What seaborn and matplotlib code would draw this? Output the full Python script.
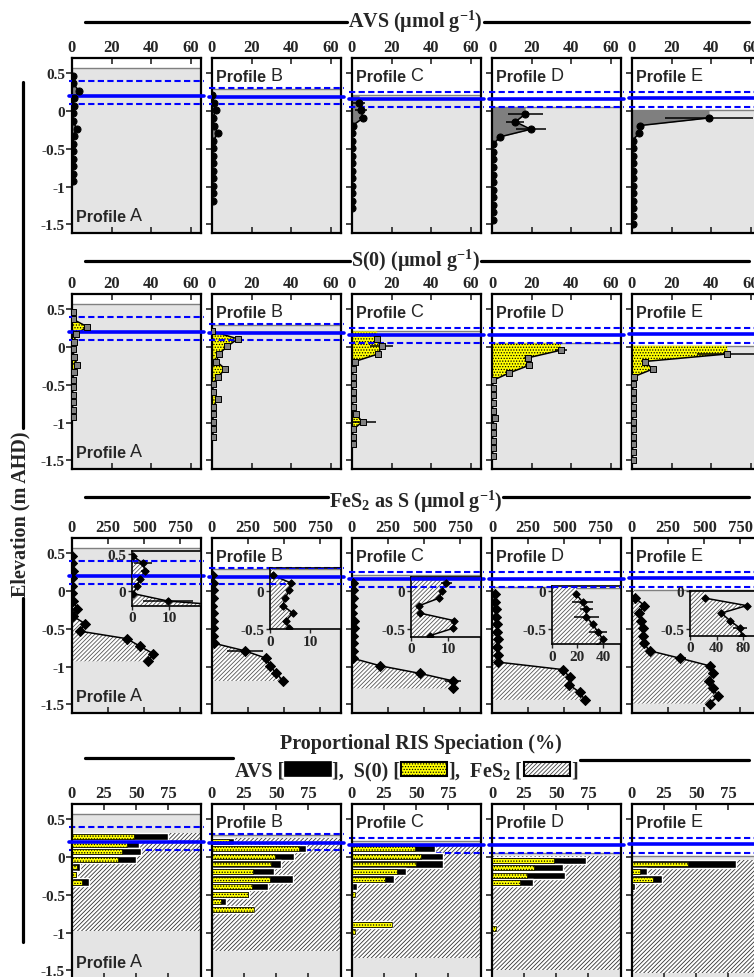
import numpy as np
import matplotlib
matplotlib.use("Agg")
import matplotlib.pyplot as plt
import seaborn as sns
from matplotlib.lines import Line2D
from matplotlib.patches import Rectangle

sns.set_style("ticks")
plt.rcParams["font.family"] = ["Liberation Serif", "DejaVu Serif"]
plt.rcParams["font.weight"] = "bold"
plt.rcParams["axes.unicode_minus"] = False
plt.rcParams["mathtext.fontset"] = "custom"
plt.rcParams["mathtext.rm"] = "Liberation Serif:bold"
plt.rcParams["mathtext.it"] = "Liberation Serif:bold"
plt.rcParams["mathtext.bf"] = "Liberation Serif:bold"
plt.rcParams["hatch.linewidth"] = 0.6

# =============================================================================
# DATA
# =============================================================================
profiles = ["A", "B", "C", "D", "E"]

# sample elevations (m AHD)
elev_a = [0.47, 0.37, 0.27, 0.17, 0.07, -0.03, -0.13, -0.23, -0.33, -0.43, -0.53, -0.63, -0.73, -0.83, -0.93]
elev_b = [0.21, 0.11, 0.01, -0.09, -0.19, -0.29, -0.39, -0.49, -0.59, -0.69, -0.79, -0.89, -0.99, -1.09, -1.19]
elev_c = [0.11, 0.01, -0.09, -0.19, -0.29, -0.39, -0.49, -0.59, -0.69, -0.79, -0.89, -0.99, -1.09, -1.19, -1.29]
elev_d = [-0.04, -0.14, -0.24, -0.34, -0.44, -0.54, -0.64, -0.74, -0.84, -0.94, -1.04, -1.14, -1.24, -1.34, -1.44]
elev_e = [-0.09, -0.19, -0.29, -0.39, -0.49, -0.59, -0.69, -0.79, -0.89, -0.99, -1.09, -1.19, -1.29, -1.39, -1.49]

# sediment surface and water levels (m AHD)
surface = [0.57, 0.30, 0.21, 0.05, 0.02]
upper_wl = [0.40, 0.31, 0.26, 0.26, 0.26]
mean_wl = [0.20, 0.19, 0.16, 0.16, 0.17]
lower_wl = [0.10, 0.09, 0.06, 0.06, 0.06]

# AVS (umol/g)
avs_a = [0.3, 0.5, 3.5, 0.8, 0.8, 0.5, 0.5, 2.3, 0.8, 0.5, 0.4, 0.4, 0.4, 0.3, 0.3]
avs_b = [0.2, 1.0, 1.8, 0.5, 1.0, 3.0, 0.7, 0.4, 0.3, 0.3, 0.3, 0.3, 0.3, 0.3, 0.3]
avs_c = [3.6, 4.5, 5.6, 0.3, 0.2, 0.2, 0.2, 0.2, 0.2, 0.2, 0.2, 0.2, 0.2, 0.2, 0.2]
avs_d = [16.7, 11.8, 19.5, 4.1, 0.5, 0.3, 0.3, 0.3, 0.3, 0.3, 0.3, 0.3, 0.3, 0.3, 0.3]
avs_e = [38.8, 4.2, 3.5, 0.3, 0.3, 0.3, 0.3, 0.3, 0.3, 0.3, 0.3, 0.3, 0.3, 0.3, 0.3]
avs_err_a = [0] * 15
avs_err_b = [0] * 15
avs_err_c = [3, 3, 2, 0, 0, 0, 0, 0, 0, 0, 0, 0, 0, 0, 0]
avs_err_d = [8.8, 4.5, 7.6, 1, 0, 0, 0, 0, 0, 0, 0, 0, 0, 0, 0]
avs_err_e = [22, 1, 0.5, 0, 0, 0, 0, 0, 0, 0, 0, 0, 0, 0, 0]

# S(0) (umol/g)
s0_a = [0.3, 0.5, 7.7, 2.0, 1.0, 0.3, 1.2, 2.5, 1.2, 0.3, 0.3, 0.3, 0.3, 0.3, 0.3]
s0_b = [0.2, 13.0, 7.7, 3.5, 2.2, 6.8, 3.0, 0.5, 0.5, 3.0, 0.5, 0.5, 0.5, 0.5, 0.5]
s0_c = [12.7, 14.9, 13.2, 1.4, 0.5, 0.3, 0.3, 0.3, 0.3, 0.3, 2.0, 5.3, 0.5, 0.3, 0.3]
s0_d = [34.7, 18.3, 18.8, 8.8, 0.5, 0.3, 0.3, 0.3, 0.3, 1.3, 0.3, 0.3, 0.3, 0.3, 0.3]
s0_e = [48.0, 6.3, 10.5, 1.0, 0.5, 0.3, 0.3, 0.3, 0.3, 0.3, 0.3, 0.3, 0.3, 0.3, 0.3]
s0_err_a = [0] * 15
s0_err_b = [0] * 15
s0_err_c = [1.5, 6, 1.5, 0, 0, 0, 0, 0, 0, 0, 0, 6.7, 0, 0, 0]
s0_err_d = [3, 2, 2, 1, 0, 0, 0, 0, 0, 0, 0, 0, 0, 0, 0]
s0_err_e = [15, 1, 1, 0, 0, 0, 0, 0, 0, 0, 0, 0, 0, 0, 0]

# FeS2 as S (umol/g)
fes2_a = [0.2, 3.0, 3.5, 2.2, 1.4, 0.3, 9.7, 37, 5, 90, 55, 379, 471, 563, 529]
fes2_b = [0.8, 5.2, 4.8, 3.8, 3.2, 5.7, 4.0, 4.8, 5, 12, 226, 376, 400, 446, 492]
fes2_c = [9.4, 8.3, 7.5, 2.3, 2.5, 11.5, 11.3, 5, 5, 5, 5, 197, 470, 700, 700]
fes2_d = [19, 24, 27, 27, 32, 36, 40, 35, 40, 40, 492, 538, 533, 607, 642]
fes2_e = [22, 85, 47, 60, 75, 78, 81, 122, 335, 538, 561, 533, 561, 596, 538]
fes2_err_a = [0, 2.5, 1.2, 0, 0, 0, 6.7, 0, 0, 0, 0, 0, 0, 0, 0]
fes2_err_b = [0, 0, 0, 0, 0, 0, 0, 0, 0, 0, 125, 0, 0, 0, 0]
fes2_err_c = [1.5, 0, 0, 0, 0, 0, 0, 0, 0, 0, 0, 0, 0, 58, 0]
fes2_err_d = [0, 8, 5, 10, 0, 7, 0, 0, 0, 0, 0, 0, 0, 0, 0]
fes2_err_e = [0, 0, 0, 0, 10, 0, 0, 0, 40, 0, 0, 0, 0, 0, 0]

# proportional RIS speciation (%)
pct_elev_a = [0.27, 0.17, 0.07, -0.03, -0.13, -0.23, -0.33]
pct_s0_a = [48, 43, 39, 36, 4, 3, 8]
pct_avs_a = [27, 9, 15, 14, 2, 1, 5]
pct_elev_b = [0.21, 0.11, 0.01, -0.09, -0.19, -0.29, -0.39, -0.49, -0.59, -0.69]
pct_s0_b = [13, 68, 49, 46, 32, 45, 31, 28, 7, 33]
pct_avs_b = [4, 5, 15, 8, 16, 18, 13, 1, 4, 0]
pct_elev_c = [0.11, 0.01, -0.09, -0.19, -0.29, -0.39, -0.49, -0.89, -0.99]
pct_s0_c = [49, 54, 50, 35, 25.5, 0, 2, 31, 2]
pct_avs_c = [16, 17, 21, 7, 7.5, 4, 0.6, 0, 0]
pct_elev_d = [-0.04, -0.14, -0.24, -0.34, -0.94]
pct_s0_d = [48, 33, 27, 22, 3]
pct_avs_d = [25, 22, 30, 10, 0]
pct_elev_e = [-0.09, -0.19, -0.29, -0.39]
pct_s0_e = [44, 6.5, 16.4, 0.8]
pct_avs_e = [37, 5.2, 6.6, 1.2]

elev = [elev_a, elev_b, elev_c, elev_d, elev_e]
avs = [avs_a, avs_b, avs_c, avs_d, avs_e]
avs_err = [avs_err_a, avs_err_b, avs_err_c, avs_err_d, avs_err_e]
s0 = [s0_a, s0_b, s0_c, s0_d, s0_e]
s0_err = [s0_err_a, s0_err_b, s0_err_c, s0_err_d, s0_err_e]
fes2 = [fes2_a, fes2_b, fes2_c, fes2_d, fes2_e]
fes2_err = [fes2_err_a, fes2_err_b, fes2_err_c, fes2_err_d, fes2_err_e]
pct_elev = [pct_elev_a, pct_elev_b, pct_elev_c, pct_elev_d, pct_elev_e]
pct_s0 = [pct_s0_a, pct_s0_b, pct_s0_c, pct_s0_d, pct_s0_e]
pct_avs = [pct_avs_a, pct_avs_b, pct_avs_c, pct_avs_d, pct_avs_e]

ytick_vals = [0.5, 0, -0.5, -1, -1.5]
ytick_text = ["0.5", "0", "-0.5", "-1", "-1.5"]

# =============================================================================
# LAYOUT
# =============================================================================
W, H = 754, 978
fig = plt.figure(figsize=(W / 100, H / 100), dpi=100)
renderer = fig.canvas.get_renderer()

YLIM = (-1.615, 0.705)
col_left = [72, 212, 352, 492, 632]
row_top = [59, 295, 539, 805]
PW, PH = 129, 175
GREY_BG = "#e4e4e4"
BLUE = "#0000ff"
DOTS = "......"
LINES = "////////"


def fy(y):
    return 1 - y / H


def px_axes(left, top, width, height):
    return fig.add_axes([left / W, 1 - (top + height) / H, width / W, height / H])


def background(ax, i, ylim):
    ax.set_facecolor("white")
    ax.axhspan(ylim[0], surface[i], color=GREY_BG, lw=0, zorder=0)
    ax.axhline(surface[i], color="#808080", lw=1, zorder=0.6)


def water_lines(ax, i, ext=0.025, clip=False, z_dash=3.5, z_solid=3.5):
    for lvl in (upper_wl[i], lower_wl[i]):
        ax.axhline(lvl, xmin=-ext, xmax=1 + ext, color=BLUE, lw=1.5, ls=(0, (3, 1.6)),
                   clip_on=clip, zorder=z_dash)
    ax.axhline(mean_wl[i], xmin=-ext, xmax=1 + ext, color=BLUE, lw=2.6,
               clip_on=clip, zorder=z_solid)


def style(ax, xlim, xticks, ylabels):
    ax.set_xlim(*xlim)
    ax.set_ylim(*YLIM)
    ax.set_xticks(xticks)
    ax.set_xticklabels([str(t) for t in xticks])
    ax.set_yticks(ytick_vals)
    ax.set_yticklabels(ytick_text if ylabels else [])
    ax.tick_params(axis="x", direction="in", top=True, bottom=True, labeltop=True,
                   labelbottom=False, length=4, width=1.2, labelsize=12, pad=2.5)
    ax.tick_params(axis="y", direction="out", left=True, right=False, length=4,
                   width=1.2, labelsize=11, pad=1)
    for sp in ax.spines.values():
        sp.set_visible(True)
        sp.set_linewidth(1.6)
        sp.set_color("black")
    ax.set_xlabel("")
    ax.set_ylabel("")


def profile_label(ax, p):
    y = 0.068 if p == "A" else 0.87
    t = ax.text(0.028, y, "Profile ", transform=ax.transAxes, family=["Liberation Sans"],
                fontweight="bold", fontsize=11.5, va="baseline", ha="left", zorder=6)
    ax.annotate(p, xy=(1, 0), xycoords=t, va="bottom", ha="left", family=["Liberation Sans"],
                fontweight="normal", fontsize=13, zorder=6)


def draw_series(ax, i, x, e, cfg, scale=1.0):
    y = elev[i]
    ax.fill_betweenx([surface[i]] + list(y), 0, [x[0]] + list(x), zorder=1, **cfg["fill"])
    ax.errorbar(x, y, xerr=e, fmt="none", ecolor="black", elinewidth=1.1, capsize=0, zorder=3)
    sns.lineplot(x=x, y=y, sort=False, estimator=None, color="black", lw=1.1, ax=ax,
                 zorder=3, legend=False)
    sns.scatterplot(x=x, y=y, marker=cfg["marker"], s=cfg["ms"] * scale, color=cfg["mface"],
                    edgecolor="black", linewidth=0.7, ax=ax, zorder=4, legend=False)


rows = [
    dict(data=avs, err=avs_err, xlim=(0, 65), xticks=[0, 20, 40, 60], marker="o", ms=26,
         mface="black", fill=dict(facecolor="#7f7f7f", lw=0)),
    dict(data=s0, err=s0_err, xlim=(0, 65), xticks=[0, 20, 40, 60], marker="s", ms=24,
         mface="#808080", fill=dict(facecolor="#ffff00", edgecolor="black", hatch=DOTS, lw=0)),
    dict(data=fes2, err=fes2_err, xlim=(0, 893), xticks=[0, 250, 500, 750], marker="D", ms=26,
         mface="black", fill=dict(facecolor="white", edgecolor="#555555", hatch=LINES, lw=0)),
]

insets = [
    dict(box=(132, 551.7, 68.5, 55), ylim=(-0.191, 0.539), xlim=(0, 18.4), xticks=[0, 10],
         yticks=[0.5, 0], ylab=["0.5", "0"]),
    dict(box=(270, 569.3, 70.7, 60.7), ylim=(-0.502, 0.305), xlim=(0, 17.7), xticks=[0, 10],
         yticks=[0, -0.5], ylab=["0", "-0.5"]),
    dict(box=(410.7, 577.7, 70.3, 60), ylim=(-0.603, 0.194), xlim=(0, 18.6), xticks=[0, 10],
         yticks=[0, -0.5], ylab=["0", "-0.5"]),
    dict(box=(551.7, 586.7, 68.8, 58.3), ylim=(-0.70, 0.074), xlim=(0, 53.6), xticks=[0, 20, 40],
         yticks=[0, -0.5], ylab=["0", "-0.5"]),
    dict(box=(690, 591.7, 71, 45), ylim=(-0.590, 0.008), xlim=(0, 106.5), xticks=[0, 40, 80],
         yticks=[0, -0.5], ylab=["0", "-0.5"]),
]

# =============================================================================
# ROWS 1-3: CONCENTRATION PROFILES
# =============================================================================
for r, cfg in enumerate(rows):
    for i, p in enumerate(profiles):
        ax = px_axes(col_left[i], row_top[r], PW, PH)
        background(ax, i, YLIM)
        water_lines(ax, i)
        draw_series(ax, i, cfg["data"][i], cfg["err"][i], cfg)
        style(ax, cfg["xlim"], cfg["xticks"], ylabels=(i == 0))
        profile_label(ax, p)

        if r == 2:
            ins = insets[i]
            iax = px_axes(*ins["box"])
            background(iax, i, ins["ylim"])
            water_lines(iax, i, ext=0, clip=True)
            draw_series(iax, i, cfg["data"][i], cfg["err"][i], cfg, scale=0.55)
            iax.set_xlim(*ins["xlim"])
            iax.set_ylim(*ins["ylim"])
            iax.set_xticks(ins["xticks"])
            iax.set_xticklabels([str(t) for t in ins["xticks"]])
            iax.set_yticks(ins["yticks"])
            iax.set_yticklabels(ins["ylab"])
            iax.tick_params(direction="out", length=3, width=1, labelsize=11, pad=1,
                            top=False, right=False)
            for sp in iax.spines.values():
                sp.set_visible(True)
                sp.set_linewidth(1.2)
                sp.set_color("black")
            iax.set_xlabel("")
            iax.set_ylabel("")

# =============================================================================
# ROW 4: PROPORTIONAL SPECIATION
# =============================================================================
for i, p in enumerate(profiles):
    ax = px_axes(col_left[i], row_top[3], PW, PH)
    background(ax, i, YLIM)
    top = pct_elev[i][0] + 0.05
    bottom = elev[i][-1] - 0.05
    ax.fill_betweenx([top, bottom], 0, 100.5, facecolor="white", edgecolor="#333333",
                     hatch=LINES, lw=0, zorder=1)
    water_lines(ax, i, z_dash=1.5, z_solid=3)
    ax.barh(pct_elev[i], np.add(pct_avs[i], pct_s0[i]), height=0.095, color="black", zorder=2)
    ax.barh(pct_elev[i], pct_s0[i], height=0.065, facecolor="#ffff00", edgecolor="black",
            hatch=DOTS, lw=0.5, zorder=2.5)
    style(ax, (0, 100.5), [0, 25, 50, 75], ylabels=(i == 0))
    profile_label(ax, p)

# =============================================================================
# TITLES, LEGEND, Y LABEL
# =============================================================================
TITLE_FS = 14.5
LINE_W = 2.3


def hline(x0, x1, y):
    fig.add_artist(Line2D([x0 / W, x1 / W], [fy(y)] * 2, color="black", lw=LINE_W))


def row_title(s, base_y, line_y, xc=415.5):
    t = fig.text(xc / W, fy(base_y), s, ha="center", va="baseline", fontsize=TITLE_FS,
                 fontweight="bold")
    bb = t.get_window_extent(renderer)
    hline(85, bb.x0 - 1, line_y)
    hline(bb.x1 + 1, 749, line_y)


row_title("AVS (\u03bcmol g$^{-1}$)", 28, 23)
row_title("S(0) (\u03bcmol g$^{-1}$)", 266.5, 261.7)
row_title("FeS$_{2}$ as S (\u03bcmol g$^{-1}$)", 508, 497.7)

fig.text(421 / W, fy(749), "Proportional RIS Speciation (%)", ha="center", va="baseline",
         fontsize=TITLE_FS, fontweight="bold")


def piece(s, x):
    t = fig.text(x / W, fy(776.5), s, ha="left", va="baseline", fontsize=TITLE_FS,
                 fontweight="bold")
    return t.get_window_extent(renderer).x1


def box(x, w=46, **kw):
    fig.add_artist(Rectangle((x / W, fy(777)), w / W, 14 / H, transform=fig.transFigure, **kw))
    return x + w


x = piece("AVS [", 235)
x = box(x + 1, facecolor="black", edgecolor="black", lw=1.2)
x = piece("],  S(0) [", x + 1)
x = box(x + 1, facecolor="#ffff00", edgecolor="black", hatch=DOTS, lw=1.5)
x = piece("],  FeS$_{2}$ [", x + 1)
box(x + 1, facecolor="white", edgecolor="#404040", hatch=LINES, lw=0)
x = box(x + 1, fill=False, edgecolor="black", lw=1.5)
x = piece("]", x + 1)
hline(85, 233, 759)
hline(x + 2, 749, 760.5)

t = fig.text(25 / W, fy(514), "Elevation (m AHD)", rotation=90, rotation_mode="anchor",
             ha="center", va="baseline", fontsize=TITLE_FS, fontweight="bold")
bb = t.get_window_extent(renderer)
fig.add_artist(Line2D([23 / W] * 2, [fy(83), (bb.y1 + 2) / H], color="black", lw=LINE_W))
fig.add_artist(Line2D([23 / W] * 2, [(bb.y0 - 2) / H, fy(943)], color="black", lw=LINE_W))

fig.savefig("out.png", dpi=100)
